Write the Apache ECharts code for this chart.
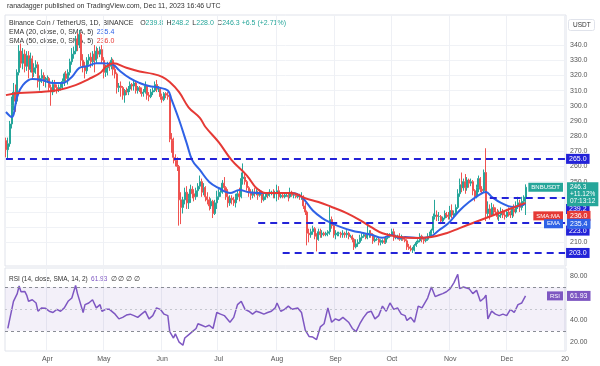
<!DOCTYPE html>
<html><head><meta charset="utf-8">
<script src="https://cdn.jsdelivr.net/npm/echarts@6/dist/echarts.min.js"></script>
<style>html,body{margin:0;padding:0;background:#fff}#c{width:600px;height:366px}</style>
</head><body><div id="c"></div>
<script>
// ---- data ----
// daily candles from 2023-03-10, each [open, close, low, high]
const ohlc = [
[277,271,266,279],[271,275,265,279],[275,288,273,290],[288,300,285,306],[300,309,297,315],[309,303,296,314],[303,322,301,324],[322,336,320,340],[336,328,325,341],[328,334,324,338],
[334,326,322,337],[326,333,323,336],[333,324,318,336],[324,331,322,335],[331,322,318,333],[322,325,319,328],[325,327,321,330],[327,316,312,329],[316,318,310,320],[318,320,315,324],
[320,316,313,322],[316,317,312,319],[317,318,315,320],[318,312,309,319],[312,309,300,314],[309,314,307,317],[314,312,309,317],[312,311,308,314],[311,312,309,314],[312,313,310,315],
[313,316,311,318],[316,321,313,322],[321,318,316,323],[318,322,314,324],[322,329,320,331],[329,334,327,338],[334,336,331,339],[336,344,334,346],[344,340,336,348],[340,347,338,350],
[347,330,326,348],[330,326,322,334],[326,323,318,329],[323,330,321,332],[330,332,327,334],[332,329,325,335],[329,334,326,336],[334,330,322,340],[330,336,328,339],[336,334,331,338],
[334,337,332,339],[337,330,328,340],[330,322,318,332],[322,325,319,327],[325,327,320,329],[327,326,323,329],[326,330,324,332],[330,324,320,331],[324,321,318,326],[321,312,308,322],
[312,313,309,315],[313,312,306,316],[312,307,304,313],[307,310,302,311],[310,309,307,312],[309,311,307,313],[311,314,309,316],[314,313,310,315],[313,315,310,317],[315,310,308,316],
[310,312,308,313],[312,311,309,313],[311,308,306,312],[308,309,306,311],[309,313,308,316],[313,307,304,313],[307,306,303,309],[306,309,305,311],[309,310,307,312],[310,314,309,316],
[314,311,309,317],[311,311,309,313],[311,306,304,312],[306,304,302,308],[304,308,303,309],[308,307,305,309],[307,306,304,309],[306,278,276,308],[278,277,269,282],[277,266,262,279],
[266,264,260,268],[264,260,257,266],[260,238,221,261],[238,233,222,243],[233,238,229,240],[238,243,235,246],[243,236,232,247],[236,239,232,242],[239,245,236,248],[245,242,239,247],
[242,240,237,245],[240,244,238,246],[244,247,240,249],[247,250,245,254],[250,243,240,252],[243,246,241,249],[246,240,237,247],[240,238,235,243],[238,234,231,240],[234,237,232,239],
[237,229,226,238],[229,236,228,238],[236,240,232,244],[240,243,238,245],[243,244,240,246],[244,249,242,251],[249,246,244,253],[246,240,238,247],[240,236,233,245],[236,239,234,241],
[239,238,235,241],[238,236,234,240],[236,240,233,242],[240,242,238,244],[242,240,237,246],[240,252,239,256],[252,253,248,262],[253,250,248,255],[250,246,244,251],[246,243,240,247],
[243,241,238,245],[241,243,239,245],[243,242,240,246],[242,243,241,245],[243,241,238,244],[241,243,240,245],[243,238,236,244],[238,240,237,242],[240,242,238,243],[242,241,239,243],
[241,243,240,245],[243,243,241,244],[243,242,239,245],[242,242,239,244],[242,244,237,248],[244,240,238,247],[240,241,239,243],[241,240,239,242],[240,241,239,242],[241,241,240,242],
[241,240,237,243],[240,243,239,246],[243,241,240,244],[241,241,239,242],[241,240,239,242],[240,241,239,242],[241,240,238,242],[240,240,238,243],[240,234,232,241],[234,230,228,236],
[230,216,208,231],[216,215,210,219],[215,217,213,219],[217,219,215,221],[219,214,212,220],[214,212,204,216],[212,217,211,219],[217,215,213,219],[215,216,213,218],[216,215,214,217],
[215,216,214,217],[216,217,214,218],[217,225,215,234],[225,221,219,227],[221,215,213,223],[215,215,212,218],[215,216,214,217],[216,216,214,217],[216,215,213,217],[215,216,213,218],
[216,215,213,217],[215,216,213,218],[216,214,212,217],[214,214,213,215],[214,212,210,215],[212,207,205,213],[207,209,206,212],[209,210,207,212],[210,213,209,215],[213,214,211,216],
[214,215,213,216],[215,213,212,216],[213,215,212,221],[215,216,213,218],[216,215,213,218],[215,211,209,216],[211,212,210,214],[212,212,211,213],[212,210,208,213],[210,211,208,212],
[211,211,209,212],[211,210,209,213],[210,213,209,214],[213,214,212,216],[214,215,213,216],[215,217,214,219],[217,213,211,219],[213,214,212,215],[214,214,212,215],[214,212,211,216],
[212,213,211,215],[213,212,211,214],[212,211,210,213],[211,207,205,212],[207,206,205,209],[206,205,204,208],[205,205,203,207],[205,208,204,209],[208,210,207,211],[210,211,209,212],
[211,214,210,216],[214,212,210,215],[212,211,209,213],[211,212,210,213],[212,214,211,216],[214,216,213,217],[216,218,214,219],[218,227,216,229],[227,228,225,238],[228,227,224,231],
[227,227,224,230],[227,224,222,228],[224,226,223,227],[226,229,225,231],[229,228,226,230],[228,227,225,230],[227,231,225,234],[231,228,226,235],[228,229,226,231],[229,233,228,235],
[233,242,232,245],[242,248,240,252],[248,246,243,256],[246,250,244,252],[250,246,242,255],[246,251,244,253],[251,249,246,252],[249,250,247,252],[250,244,241,251],[244,240,237,245],
[240,246,239,248],[246,252,243,254],[252,245,243,253],[245,244,242,247],[244,256,243,258],[256,229,224,272],[229,232,226,237],[232,228,225,235],[228,233,227,236],[233,231,228,235],
[231,230,228,233],[230,227,225,232],[227,228,224,231],[228,230,226,233],[230,228,226,232],[228,227,225,230],[227,230,226,232],[230,229,227,233],[229,228,226,231],[228,232,226,234],
[232,230,227,235],[230,234,229,237],[234,236,232,240],[236,233,230,238],[233,237,231,240],[237,239.8,234,241],[239.8,246.3,228,248.2]
];
// [day index from 2023-03-10, value]
const emaPoints = [[0,295.9],[3,292.6],[6,306],[9,313.6],[14,317.6],[19,317],[25,315],[30,315],[35,319],[39,325],[43,326],[48,328],[51,328],[57,327],[60,323.5],[66,318],[71,315],[76,313],[81,312],[86,310],[88,304],[92,290.6],[96,275.4],[99,264],[103,257.7],[108,249.8],[113,245.8],[119,242.5],[124,244.5],[129,243],[134,242.5],[140,242.5],[145,242.5],[152,242.5],[157,240],[163,231],[168,226],[173,222.7],[178,220],[184,217.6],[189,216.3],[194,215],[200,213],[205,214.8],[209,213],[212,213.5],[219,212.9],[225,213.5],[230,218],[235,222.6],[241,231],[246,236.6],[251,241],[255,243.2],[258,240],[263,236],[269,233.3],[276,235.4]];
const smaPoints = [[0,307],[7,308.4],[18,309],[28,310.4],[37,313.6],[44,317.6],[50,321.6],[53,325.5],[57,328],[64,325],[71,322.6],[78,321],[83,319],[87,315.6],[92,309],[97,299],[103,292],[106,286],[113,276],[120,264],[128,254],[133,245.8],[138,242.5],[145,242.5],[152,242.5],[159,239],[166,236.6],[173,233.3],[181,229.3],[188,224.7],[194,220],[200,216],[209,213.5],[218,212.9],[226,213.5],[234,216],[241,219.4],[248,222.7],[255,226],[262,229.3],[269,232.6],[276,236]];
const rsiPoints = [[1,32.3],[2,32],[4,57],[5,58.4],[6,64],[7,70.9],[8,65.7],[10,66],[11,62.7],[12,57],[14,58.4],[16,55.5],[17,48],[19,51],[21,50.6],[23,48],[25,46.8],[27,49.7],[29,48],[31,51],[33,57],[35,60],[37,71.5],[38,64],[39,62.7],[41,46.8],[42,54],[44,55.5],[46,58.4],[48,51],[50,54],[51,48],[53,49.7],[55,49.7],[58,45.3],[60,41],[62,42.4],[64,44.5],[66,45.3],[68,44],[70,42.4],[72,45.3],[74,48],[76,41],[78,44],[80,51],[82,49.7],[84,45.3],[86,44],[87,29.4],[88,26.5],[89,23.6],[90,27.4],[92,19.8],[94,17],[95,23.6],[97,26.5],[99,29.4],[101,32.3],[102,36.6],[104,35.2],[106,33.7],[108,35.2],[110,32.3],[112,46.8],[114,45.3],[116,44],[119,38],[121,42.4],[123,54],[125,57],[127,49.7],[129,48],[131,45.3],[133,48],[135,46.8],[137,45.3],[139,46.8],[141,48],[143,51],[144,55.5],[146,48],[148,49.7],[150,52.6],[152,49.7],[155,51],[157,46.8],[159,30.8],[161,25],[163,24.5],[165,22.2],[167,33.7],[169,36.6],[171,51],[172,49.7],[173,38],[175,41],[177,39.6],[179,42.4],[182,38],[184,32.3],[186,29.4],[188,36.6],[190,42.4],[192,46.8],[194,48],[196,41],[198,44],[200,52.6],[202,48],[204,55.5],[206,49.7],[208,51],[210,45.3],[212,44],[213,39.6],[215,42.4],[217,38],[219,52.6],[221,51],[224,60],[226,70],[228,61.3],[230,62.7],[232,64],[234,65.7],[236,68.5],[238,74],[240,81.6],[241,68.5],[243,70],[246,68.5],[248,64],[250,67],[252,57],[254,60],[255,62.7],[256,41],[258,48],[260,45.3],[262,44],[264,45.3],[266,44],[268,49.7],[270,46.8],[272,54],[274,55.5],[276,61.93]];
// horizontal support/resistance levels: [price, first day index]
const levels = [[265,0],[239.2,257],[223,134],[203,147]];
const priceGrid = [210,220,230,240,250,260,270,280,290,300,310,320,330,340];
const priceTickLabels = [210,250,260,270,280,290,300,310,320,330,340];
const rsiTickLabels = [20,40,80];
const rsiBands = [70,50,30];
const monthTickLabels = {'2023-04-01':'Apr','2023-05-01':'May','2023-06-01':'Jun','2023-07-01':'Jul','2023-08-01':'Aug','2023-09-01':'Sep','2023-10-01':'Oct','2023-11-01':'Nov','2023-12-01':'Dec','2024-01-01':'20'};
const lastClose = 246.3, emaLast = 235.4, smaLast = 236.0, rsiLast = 61.93;

// categories: every day 2023-03-10 .. 2024-01-01
const categories = [];
for (let t = Date.UTC(2023,2,10); t <= Date.UTC(2024,0,1); t += 86400000) categories.push(new Date(t).toISOString().slice(0,10));

const FONT = 'Liberation Sans, Arial, sans-serif';
const UP = '#26a69a', DOWN = '#ef5350', LEVEL = '#2323d8', EMA_C = '#2f62e6', SMA_C = '#e53935', RSI_C = '#7e57c2';
const isMonth = (i, v) => Object.prototype.hasOwnProperty.call(monthTickLabels, v);
const toCat = arr => arr.map(([d, v]) => [categories[d], v]);

function levelLine(p, start, dy) {
  return [
    {coord:[categories[start], p], lineStyle:{color:LEVEL, width:2, type:[7,5]},
     label:{show:true, position:'end', distance:1, offset:[0,dy], formatter:p.toFixed(1), backgroundColor:LEVEL, color:'#fff', fontSize:7, fontFamily:FONT, padding:[2,3,1,3]}},
    {coord:[categories[categories.length-1], p]}
  ];
}
function boxLabel(p, text, bg, dy, extra) {
  return Object.assign({yAxis:p, lineStyle:{color:'rgba(0,0,0,0)'},
    label:Object.assign({show:true, position:'end', distance:1, offset:[0,dy], formatter:text, backgroundColor:bg, color:'#fff', fontSize:7, fontFamily:FONT, padding:[2,3,1,3]}, extra||{})});
}
function tagLabel(p, text, bg, dy) {
  return {yAxis:p, lineStyle:{color:'rgba(0,0,0,0)'},
    label:{show:true, position:'end', distance:0, align:'right', offset:[-3,dy], formatter:text, backgroundColor:bg, color:'#fff', fontSize:6, fontFamily:FONT, padding:[2,3,1,3]}};
}

const chart = echarts.init(document.getElementById('c'));
const axisLbl = {fontSize:7, color:'#555', fontFamily:FONT};
chart.setOption({
  animation:false,
  backgroundColor:'#fff',
  grid:[
    {left:5, right:34, top:15, height:251, show:true, borderColor:'#e0e3eb', borderWidth:1},
    {left:5, right:34, top:268, height:83, show:true, borderColor:'#e0e3eb', borderWidth:1}
  ],
  xAxis:[
    {type:'category', gridIndex:0, data:categories, axisLine:{show:false}, axisTick:{show:false}, axisLabel:{show:false},
     splitLine:{show:true, interval:isMonth, lineStyle:{color:'#eef0f5'}}},
    {type:'category', gridIndex:1, data:categories, axisLine:{show:false}, axisTick:{show:false},
     axisLabel:Object.assign({interval:isMonth, formatter:v => monthTickLabels[v] || '', margin:5}, axisLbl),
     splitLine:{show:true, interval:isMonth, lineStyle:{color:'#eef0f5'}}}
  ],
  yAxis:[
    {type:'value', gridIndex:0, position:'right', min:194.4, max:359.8, axisLine:{show:false},
     axisTick:{show:false, customValues:priceGrid},
     axisLabel:Object.assign({customValues:priceTickLabels, formatter:v => v.toFixed(1), margin:4}, axisLbl),
     splitLine:{show:true, lineStyle:{color:'#f0f2f6'}}},
    {type:'value', gridIndex:1, position:'right', min:11.8, max:87.3, axisLine:{show:false},
     axisTick:{show:false, customValues:rsiTickLabels},
     axisLabel:Object.assign({customValues:rsiTickLabels, formatter:v => v.toFixed(2), margin:4}, axisLbl),
     splitLine:{show:false}}
  ],
  series:[
    {type:'candlestick', name:'BNBUSDT', xAxisIndex:0, yAxisIndex:0, data:ohlc, barWidth:1.5,
     itemStyle:{color:UP, color0:DOWN, borderColor:UP, borderColor0:DOWN, borderWidth:1},
     markLine:{symbol:'none', silent:true, animation:false, z:5,
       data:[
         levelLine(levels[0][0], levels[0][1], 0),
         levelLine(levels[1][0], levels[1][1], 11),
         levelLine(levels[2][0], levels[2][1], 8),
         levelLine(levels[3][0], levels[3][1], 0),
         boxLabel(lastClose, lastClose.toFixed(1)+'\n+11.12%\n07:13:12', UP, 7, {lineHeight:7, fontSize:6.5}),
         tagLabel(lastClose, 'BNBUSDT', UP, 0),
         boxLabel(smaLast, smaLast.toFixed(1), SMA_C, 13),
         tagLabel(smaLast, 'SMA:MA', SMA_C, 13),
         boxLabel(emaLast, emaLast.toFixed(1), EMA_C, 20),
         tagLabel(emaLast, 'EMA', EMA_C, 20)
       ]}},
    {type:'line', name:'EMA', xAxisIndex:0, yAxisIndex:0, data:toCat(emaPoints), smooth:0.4, showSymbol:false,
     lineStyle:{color:EMA_C, width:2}, z:3},
    {type:'line', name:'SMA', xAxisIndex:0, yAxisIndex:0, data:toCat(smaPoints), smooth:0.4, showSymbol:false,
     lineStyle:{color:SMA_C, width:2}, z:3},
    {type:'line', name:'RSI', xAxisIndex:1, yAxisIndex:1, data:toCat(rsiPoints), showSymbol:false,
     lineStyle:{color:RSI_C, width:1.5},
     markArea:{silent:true, itemStyle:{color:'rgba(126,87,194,0.09)'}, data:[[{yAxis:rsiBands[2]},{yAxis:rsiBands[0]}]]},
     markLine:{symbol:'none', silent:true, animation:false,
       data:[
         {yAxis:rsiBands[0], lineStyle:{color:'#8a8d96', type:[3,3], width:1}, label:{show:false}},
         {yAxis:rsiBands[1], lineStyle:{color:'#c5c7cf', type:[2,3], width:1}, label:{show:false}},
         {yAxis:rsiBands[2], lineStyle:{color:'#8a8d96', type:[3,3], width:1}, label:{show:false}},
         boxLabel(rsiLast, rsiLast.toFixed(2), RSI_C, 0),
         tagLabel(rsiLast, 'RSI', RSI_C, 0)
       ]}}
  ],
  graphic:[
    {type:'text', left:7, top:3, style:{text:'ranadagger published on TradingView.com, Dec 11, 2023 16:46 UTC', fontSize:7, fill:'#333', fontFamily:FONT}},
    {type:'text', left:9, top:17, style:{
      text:'{a|Binance Coin / TetherUS, 1D, BINANCE}  {a|O}{g|' + ohlc[ohlc.length-1][0].toFixed(1) + '} {a|H}{g|' + ohlc[ohlc.length-1][3].toFixed(1) + '} {a|L}{g|' + ohlc[ohlc.length-1][2].toFixed(1) + '} {a|C}{g|' + ohlc[ohlc.length-1][1].toFixed(1) + ' +6.5 (+2.71%)}',
      rich:{a:{fontSize:7, fill:'#333', fontFamily:FONT}, g:{fontSize:7, fill:UP, fontFamily:FONT}}}},
    {type:'text', left:9, top:26, style:{text:'{a|EMA (20, close, 0, SMA, 5)} {b|' + emaLast.toFixed(1) + '}',
      rich:{a:{fontSize:7, fill:'#333', fontFamily:FONT}, b:{fontSize:7, fill:EMA_C, fontFamily:FONT}}}},
    {type:'text', left:9, top:35, style:{text:'{a|SMA (50, close, 0, SMA, 5)} {b|' + smaLast.toFixed(1) + '}',
      rich:{a:{fontSize:7, fill:'#333', fontFamily:FONT}, b:{fontSize:7, fill:SMA_C, fontFamily:FONT}}}},
    {type:'text', left:9, top:273, style:{text:'{a|RSI (14, close, SMA, 14, 2)} {b|' + rsiLast.toFixed(2) + '} {a|∅ ∅ ∅ ∅}',
      rich:{a:{fontSize:6.5, fill:'#333', fontFamily:FONT}, b:{fontSize:6.5, fill:RSI_C, fontFamily:FONT}}}},
    {type:'rect', left:568, top:19, shape:{width:26, height:11, r:2}, style:{fill:'#fff', stroke:'#e0e3eb', lineWidth:1}},
    {type:'text', left:573, top:22, style:{text:'USDT', fontSize:6.5, fill:'#333', fontFamily:FONT}}
  ]
});
</script></body></html>
